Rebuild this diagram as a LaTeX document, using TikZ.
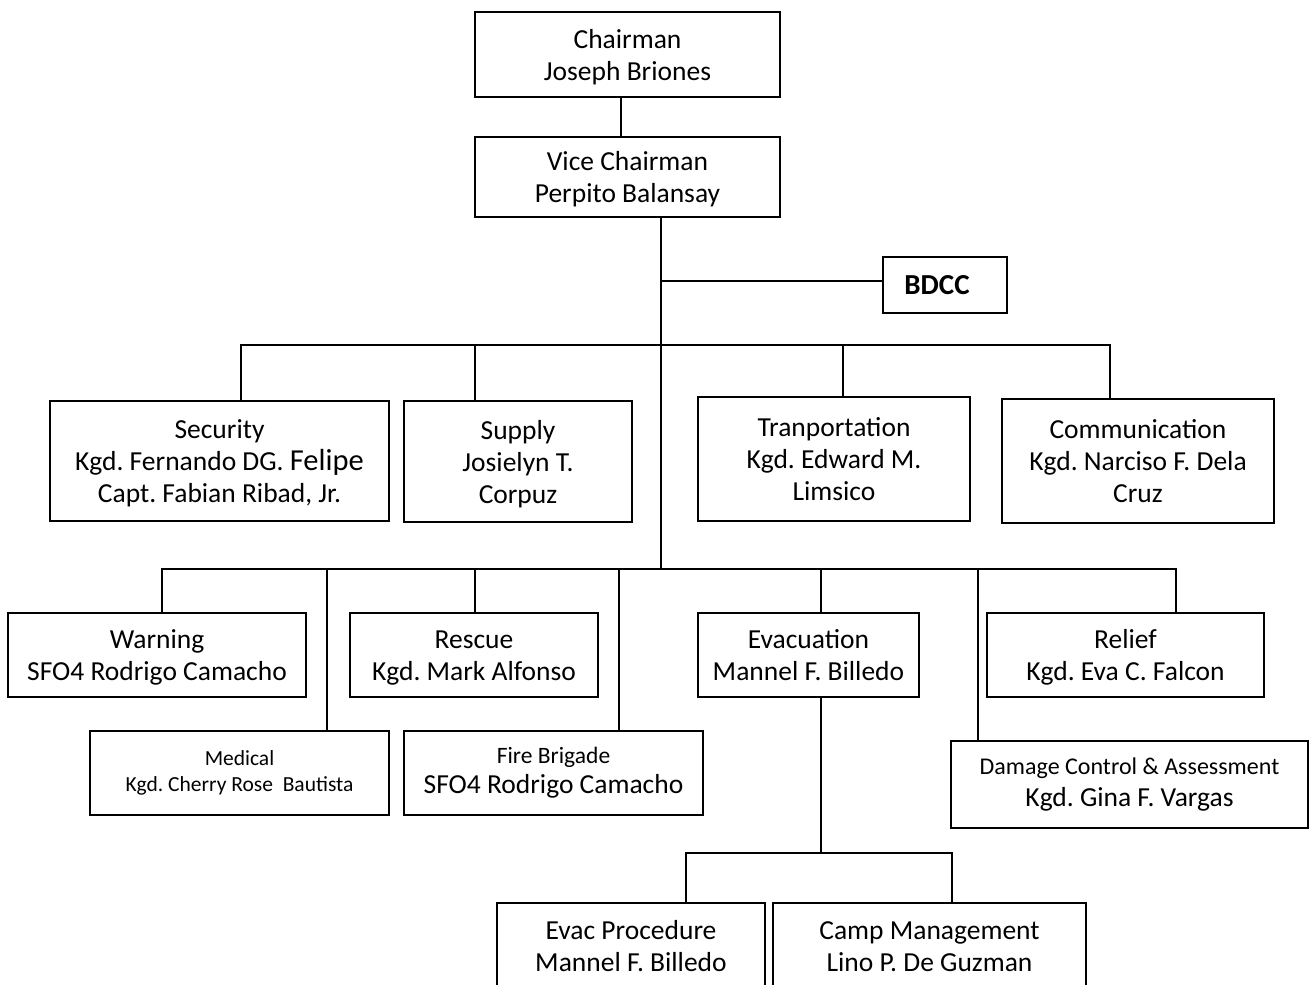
\documentclass[tikz,border=0pt]{standalone}
\usepackage{fontspec}
\setmainfont{Carlito}
\frenchspacing
\newcommand{\topstrut}{\rule{0pt}{26pt}}
\newcommand{\botstrut}{\rule[-7pt]{0pt}{7pt}}
\begin{document}
\begin{tikzpicture}[x=1pt,y=-1pt,
  box/.style={draw,line width=1.7pt,align=center,inner sep=0pt,font=\fontsize{27.5}{32}\selectfont},
  conn/.style={line width=1.6pt}]
\useasboundingbox (0,0) rectangle (1309,985);
\clip (0,0) rectangle (1309,985);
\fill[white] (0,0) rectangle (1309,985);
% top
\node[box,minimum width=305,minimum height=85] (chair) at (627.5,54.5) {\topstrut Chairman\\Joseph Briones\botstrut};
\node[box,minimum width=305,minimum height=80] (vice) at (627.5,177) {\topstrut Vice Chairman\\Perpito Balansay\botstrut};
\node[box,minimum width=124,minimum height=56,font=\fontsize{29}{32}\selectfont\bfseries] (bdcc) at (945,285) {\hspace*{-16pt}BDCC};
% first level
\node[box,minimum width=339,minimum height=120] (security) at (219.5,461) {\topstrut Security\\Kgd. Fernando DG. {\fontsize{30.5}{32}\selectfont Felipe}\\Capt. Fabian Ribad, Jr.\botstrut};
\node[box,minimum width=228,minimum height=121] (supply) at (518,461.5) {\topstrut Supply\\Josielyn T.\\Corpuz\botstrut};
\node[box,minimum width=272,minimum height=124] (transport) at (834,459) {\topstrut Tranportation\\Kgd. Edward M.\\Limsico\botstrut};
\node[box,minimum width=272,minimum height=124] (comm) at (1138,461) {\topstrut Communication\\Kgd. Narciso F. Dela\\Cruz\botstrut};
% second level
\node[box,minimum width=298,minimum height=84] (warning) at (157,655) {\topstrut Warning\\SFO4 Rodrigo Camacho\botstrut};
\node[box,minimum width=248,minimum height=84] (rescue) at (474,655) {\topstrut Rescue\\Kgd. Mark Alfonso\botstrut};
\node[box,minimum width=221,minimum height=84] (evac) at (808.5,655) {\topstrut Evacuation\\Mannel F. Billedo\botstrut};
\node[box,minimum width=277,minimum height=84] (relief) at (1125.5,655) {\topstrut Relief\\Kgd. Eva C. Falcon\botstrut};
\node[box,minimum width=299,minimum height=84,font=\fontsize{21.5}{26}\selectfont] (medical) at (239.5,773) {Medical\\Kgd. Cherry Rose~~Bautista};
\node[box,minimum width=299,minimum height=84] (fire) at (553.5,773) {{\fontsize{23.5}{26}\selectfont Fire Brigade}\\[-2pt]SFO4 Rodrigo Camacho};
\node[box,minimum width=357,minimum height=87] (damage) at (1129.5,784.5) {{\fontsize{24}{26}\selectfont Damage Control \& Assessment}\\Kgd. Gina F. Vargas};
% third level
\node[box,minimum width=268,minimum height=86] (evacproc) at (631,946) {\topstrut Evac Procedure\\Mannel F. Billedo\botstrut};
\node[box,minimum width=313,minimum height=86] (camp) at (929.5,946) {\topstrut Camp Management\\Lino P. De Guzman\botstrut};
% junctions
\coordinate (j1) at (661,281);
\coordinate (j2) at (661,345);
\coordinate (j3) at (661,569);
\coordinate (j4) at (821,853);
% connectors
\draw[conn] ([xshift=-6.5]chair.south) -- ([xshift=-6.5]vice.north);
\draw[conn] ([xshift=33.5]vice.south) -- (j3);
\draw[conn] (j1) -- (j1 -| bdcc.west);
\draw[conn] ([xshift=21.5]security.north) |- (j2);
\draw[conn] ([xshift=-43]supply.north) |- (j2);
\draw[conn] ([xshift=9]transport.north) |- (j2);
\draw[conn] ([xshift=-28]comm.north) |- (j2);
\draw[conn] ([xshift=5]warning.north) |- (j3);
\draw[conn] ([xshift=87.5]medical.north) |- (j3);
\draw[conn] ([xshift=1]rescue.north) |- (j3);
\draw[conn] ([xshift=65.5]fire.north) |- (j3);
\draw[conn] ([xshift=12.5]evac.north) |- (j3);
\draw[conn] ([xshift=-151.5]damage.north) |- (j3);
\draw[conn] ([xshift=50.5]relief.north) |- (j3);
\draw[conn] ([xshift=12.5]evac.south) -- (j4);
\draw[conn] ([xshift=55]evacproc.north) |- (j4);
\draw[conn] ([xshift=22.5]camp.north) |- (j4);
\end{tikzpicture}
\end{document}
